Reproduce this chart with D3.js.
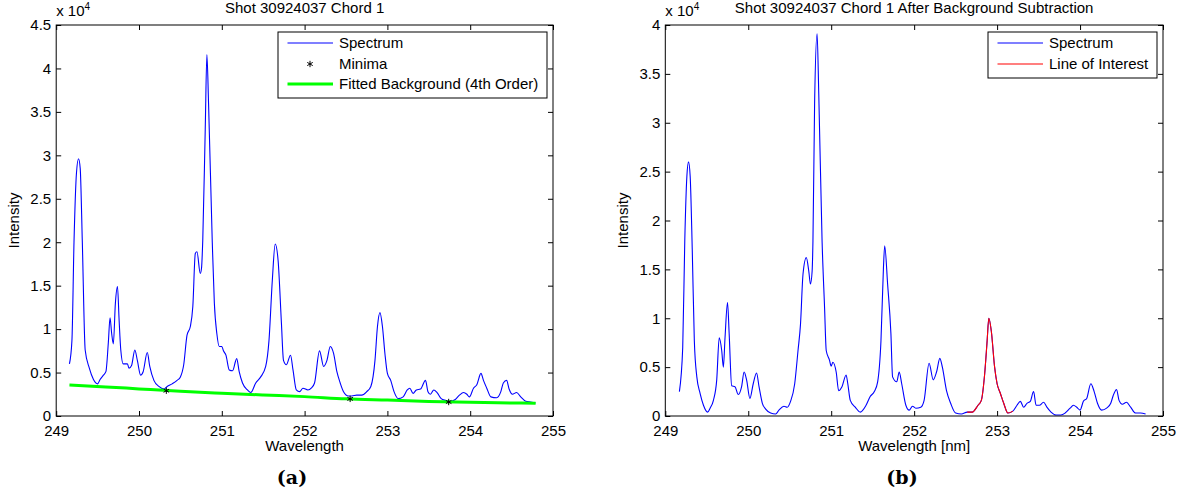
<!DOCTYPE html>
<html>
<head>
<meta charset="utf-8">
<script src="https://cdn.jsdelivr.net/npm/d3@7"></script>
<style>
  body { margin: 0; background: #fff; }
  text { font-family: "Liberation Sans", Arial, sans-serif; }
</style>
</head>
<body>
<svg id="chart" width="1185" height="496"></svg>
<script>
// ---- data (intensity in units of 10^4) ----
const xTicks = [249, 250, 251, 252, 253, 254, 255];
const yTicksA = [0, 0.5, 1, 1.5, 2, 2.5, 3, 3.5, 4, 4.5];
const yTicksB = [0, 0.5, 1, 1.5, 2, 2.5, 3, 3.5, 4];

// raw spectrum, panel (a)
const rawWl = [249.16, 249.19, 249.215, 249.245, 249.27, 249.29, 249.315, 249.35, 249.40, 249.45,
  249.50, 249.53, 249.57, 249.60, 249.63, 249.65, 249.67, 249.69, 249.715, 249.74,
  249.76, 249.78, 249.81, 249.86, 249.88, 249.91, 249.95, 249.98, 250.02, 250.05,
  250.10, 250.13, 250.18, 250.24, 250.30, 250.34, 250.40, 250.46, 250.50, 250.54,
  250.58, 250.62, 250.65, 250.68, 250.70, 250.74, 250.755, 250.77, 250.80, 250.82,
  250.84, 250.885, 250.91, 250.94, 250.97, 251.00, 251.02, 251.05, 251.09, 251.13,
  251.18, 251.21, 251.25, 251.31, 251.35, 251.41, 251.47, 251.53, 251.57, 251.61,
  251.645, 251.68, 251.72, 251.745, 251.78, 251.83, 251.86, 251.90, 251.94, 251.98,
  252.04, 252.08, 252.12, 252.18, 252.23, 252.27, 252.31, 252.35, 252.39, 252.43,
  252.47, 252.53, 252.57, 252.63, 252.69, 252.75, 252.80, 252.85, 252.88, 252.91,
  252.94, 252.97, 253.00, 253.04, 253.08, 253.13, 253.19, 253.24, 253.27, 253.31,
  253.35, 253.40, 253.46, 253.49, 253.52, 253.56, 253.60, 253.65, 253.70, 253.76,
  253.82, 253.87, 253.92, 253.96, 253.99, 254.04, 254.08, 254.13, 254.16, 254.20,
  254.25, 254.32, 254.37, 254.40, 254.44, 254.47, 254.51, 254.56, 254.61, 254.67,
  254.73, 254.79];
const rawInt = [0.60, 0.87, 2.00, 2.80, 2.96, 2.85, 2.02, 0.76, 0.55, 0.42,
  0.37, 0.42, 0.47, 0.51, 0.85, 1.13, 0.95, 0.83, 1.30, 1.49,
  1.10, 0.76, 0.60, 0.60, 0.55, 0.58, 0.76, 0.64, 0.47, 0.51,
  0.73, 0.57, 0.41, 0.34, 0.31, 0.34, 0.37, 0.41, 0.45, 0.59,
  0.93, 1.03, 1.26, 1.87, 1.89, 1.64, 1.70, 2.02, 3.30, 4.16,
  3.60, 2.00, 1.30, 0.95, 0.80, 0.80, 0.75, 0.70, 0.53, 0.52,
  0.66, 0.51, 0.38, 0.30, 0.27, 0.38, 0.45, 0.57, 0.87, 1.56,
  1.98, 1.79, 1.07, 0.64, 0.59, 0.70, 0.53, 0.30, 0.28, 0.32,
  0.30, 0.32, 0.38, 0.75, 0.57, 0.64, 0.80, 0.72, 0.51, 0.38,
  0.28, 0.23, 0.23, 0.24, 0.24, 0.28, 0.34, 0.64, 1.03, 1.19,
  1.03, 0.72, 0.49, 0.41, 0.28, 0.20, 0.22, 0.30, 0.32, 0.26,
  0.30, 0.31, 0.41, 0.28, 0.25, 0.30, 0.27, 0.20, 0.18, 0.17,
  0.19, 0.24, 0.27, 0.25, 0.22, 0.32, 0.36, 0.49, 0.41, 0.32,
  0.22, 0.21, 0.28, 0.38, 0.41, 0.31, 0.25, 0.27, 0.22, 0.17,
  0.16, 0.15];

// fitted background + minima, panel (a)
const bgWl = [249.16, 249.6, 250.0, 250.5, 251.0, 251.5, 252.0, 252.5, 253.0, 253.5, 254.0, 254.5, 254.79];
const bgInt = [0.357, 0.335, 0.312, 0.284, 0.262, 0.242, 0.223, 0.198, 0.183, 0.168, 0.157, 0.150, 0.146];
const minWl = [250.33, 252.55, 253.74];
const minInt = [0.291, 0.197, 0.161];

// background-subtracted spectrum, panel (b)
const subWl = [249.17, 249.21, 249.235, 249.26, 249.28, 249.30, 249.325, 249.35, 249.38, 249.42,
  249.46, 249.51, 249.54, 249.58, 249.62, 249.65, 249.68, 249.70, 249.72, 249.75,
  249.77, 249.80, 249.84, 249.88, 249.92, 249.95, 249.98, 250.02, 250.06, 250.10,
  250.13, 250.17, 250.21, 250.27, 250.33, 250.37, 250.43, 250.47, 250.51, 250.56,
  250.60, 250.63, 250.66, 250.70, 250.73, 250.75, 250.77, 250.78, 250.80, 250.83,
  250.85, 250.89, 250.92, 250.94, 250.98, 251.00, 251.02, 251.06, 251.09, 251.13,
  251.18, 251.20, 251.23, 251.29, 251.35, 251.42, 251.47, 251.52, 251.56, 251.60,
  251.63, 251.645, 251.68, 251.72, 251.74, 251.79, 251.82, 251.85, 251.90, 251.94,
  251.98, 252.02, 252.08, 252.12, 252.18, 252.23, 252.27, 252.31, 252.34, 252.39,
  252.44, 252.50, 252.57, 252.64, 252.70, 252.77, 252.81, 252.85, 252.88, 252.90,
  252.93, 252.97, 253.00, 253.04, 253.08, 253.13, 253.19, 253.24, 253.28, 253.32,
  253.36, 253.40, 253.44, 253.47, 253.51, 253.56, 253.60, 253.65, 253.71, 253.77,
  253.82, 253.88, 253.92, 253.96, 254.00, 254.04, 254.08, 254.13, 254.17, 254.21,
  254.26, 254.32, 254.37, 254.40, 254.44, 254.47, 254.51, 254.56, 254.61, 254.67,
  254.73, 254.79];
const subInt = [0.25, 0.70, 1.80, 2.45, 2.60, 2.45, 1.70, 0.77, 0.40, 0.23,
  0.11, 0.04, 0.08, 0.16, 0.37, 0.80, 0.67, 0.50, 0.80, 1.16,
  0.84, 0.31, 0.30, 0.22, 0.30, 0.45, 0.37, 0.18, 0.33, 0.44,
  0.30, 0.13, 0.07, 0.03, 0.02, 0.06, 0.10, 0.09, 0.15, 0.33,
  0.67, 0.94, 1.45, 1.62, 1.48, 1.35, 1.48, 1.79, 3.20, 3.91,
  3.30, 1.79, 1.11, 0.67, 0.57, 0.51, 0.55, 0.45, 0.26, 0.30,
  0.42, 0.33, 0.16, 0.09, 0.04, 0.11, 0.20, 0.25, 0.35, 0.77,
  1.52, 1.74, 1.35, 0.84, 0.40, 0.35, 0.45, 0.33, 0.11, 0.06,
  0.10, 0.08, 0.09, 0.16, 0.54, 0.37, 0.45, 0.59, 0.50, 0.26,
  0.13, 0.03, 0.02, 0.04, 0.04, 0.11, 0.16, 0.43, 0.77, 1.00,
  0.87, 0.50, 0.33, 0.23, 0.13, 0.03, 0.05, 0.11, 0.15, 0.09,
  0.13, 0.15, 0.25, 0.11, 0.11, 0.14, 0.09, 0.04, 0.01, 0.01,
  0.03, 0.08, 0.11, 0.09, 0.06, 0.15, 0.18, 0.33, 0.25, 0.13,
  0.06, 0.08, 0.13, 0.21, 0.27, 0.16, 0.12, 0.14, 0.09, 0.03,
  0.03, 0.02];
const interestRange = [252.64, 253.19];

// ---- drawing ----
const svg = d3.select("#chart");
const zip = (a, b) => a.map((v, i) => [v, b[i]]);

function drawPanel(p) {
  const x = d3.scaleLinear().domain([249, 255]).range([p.left, p.right]);
  const y = d3.scaleLinear().domain([0, p.yMax]).range([p.bottom, p.top]);
  const g = svg.append("g");

  const style = sel => sel.attr("font-size", 15)
    .attr("font-family", '"Liberation Sans", Arial, sans-serif')
    .call(s => s.select(".domain").remove())
    .call(s => s.selectAll(".tick line").attr("stroke", "#000"))
    .call(s => s.selectAll(".tick text").attr("fill", "#000"));

  g.append("g").attr("transform", `translate(0,${p.bottom})`)
    .call(d3.axisBottom(x).tickValues(xTicks).tickSize(-5).tickPadding(9).tickFormat(d3.format("d")))
    .call(style);
  g.append("g").attr("transform", `translate(0,${p.top})`)
    .call(d3.axisTop(x).tickValues(xTicks).tickSize(-5).tickFormat(""))
    .call(style);
  g.append("g").attr("transform", `translate(${p.left},0)`)
    .call(d3.axisLeft(y).tickValues(p.yTicks).tickSize(-5).tickPadding(5).tickFormat(d3.format("~g")))
    .call(style);
  g.append("g").attr("transform", `translate(${p.right},0)`)
    .call(d3.axisRight(y).tickValues(p.yTicks).tickSize(-5).tickFormat(""))
    .call(style);

  const line = d3.line().x(d => x(d[0])).y(d => y(d[1])).curve(d3.curveMonotoneX);
  p.series.forEach(s => {
    g.append("path").datum(s.data).attr("d", line)
      .attr("fill", "none").attr("stroke", s.color).attr("stroke-width", s.width);
  });
  if (p.markers) {
    g.selectAll(".minima").data(p.markers).join("path")
      .attr("transform", d => `translate(${x(d[0])},${y(d[1])})`)
      .attr("d", d3.symbol(d3.symbolAsterisk, 28))
      .attr("fill", "none").attr("stroke", "#000").attr("stroke-width", 1);
  }

  g.append("rect").attr("x", p.left).attr("y", p.top)
    .attr("width", p.right - p.left).attr("height", p.bottom - p.top)
    .attr("fill", "none").attr("stroke", "#000").attr("stroke-width", 1);

  // exponent
  const ex = g.append("text").attr("x", p.left).attr("y", 16).attr("font-size", 15);
  ex.append("tspan").text("x 10");
  ex.append("tspan").attr("font-size", 10).attr("dy", -6).text("4");

  g.append("text").attr("x", (p.left + p.right) / 2).attr("y", 13)
    .attr("text-anchor", "middle").attr("font-size", 15).text(p.title);
  g.append("text").attr("x", (p.left + p.right) / 2).attr("y", 451)
    .attr("text-anchor", "middle").attr("font-size", 15).text(p.xLabel);
  g.append("text").attr("transform", `translate(${p.left - 37},${(p.top + p.bottom) / 2}) rotate(-90)`)
    .attr("text-anchor", "middle").attr("font-size", 15).text("Intensity");
  g.append("text").attr("x", p.captionX).attr("y", 484)
    .attr("text-anchor", "middle").attr("font-size", 19).attr("font-weight", "bold")
    .style("font-family", '"DejaVu Serif", "Liberation Serif", serif').text(p.caption);

  // legend
  const lg = p.legend;
  g.append("rect").attr("x", lg.x).attr("y", lg.y).attr("width", lg.w).attr("height", lg.h)
    .attr("fill", "#fff").attr("stroke", "#000").attr("stroke-width", 1);
  lg.items.forEach((it, i) => {
    const cy = Math.round(lg.y + 11 + i * lg.step);
    if (it.type === "line") {
      g.append("line").attr("x1", lg.x + 9.5).attr("x2", lg.x + 55).attr("y1", cy).attr("y2", cy)
        .attr("stroke", it.color).attr("stroke-width", it.width);
    } else {
      g.append("path").attr("transform", `translate(${lg.x + 32},${cy})`)
        .attr("d", d3.symbol(d3.symbolAsterisk, 28))
        .attr("fill", "none").attr("stroke", "#000");
    }
    g.append("text").attr("x", lg.x + 61).attr("y", cy + 5).attr("font-size", 15).text(it.label);
  });
}

drawPanel({
  left: 56.2, right: 553, top: 25, bottom: 416, yMax: 4.5, yTicks: yTicksA,
  title: "Shot 30924037 Chord 1", xLabel: "Wavelength", caption: "(a)", captionX: 292,
  series: [
    { data: zip(rawWl, rawInt), color: "#0000ff", width: 1.1 },
    { data: zip(bgWl, bgInt), color: "#00ff00", width: 3 }
  ],
  markers: zip(minWl, minInt),
  legend: { x: 278, y: 32, w: 269, h: 66, step: 20.7, items: [
    { type: "line", color: "#0000ff", width: 1.1, label: "Spectrum" },
    { type: "mark", label: "Minima" },
    { type: "line", color: "#00ff00", width: 3, label: "Fitted Background (4th Order)" }
  ] }
});

const subData = zip(subWl, subInt);
drawPanel({
  left: 665.3, right: 1163, top: 25, bottom: 416, yMax: 4, yTicks: yTicksB,
  title: "Shot 30924037 Chord 1 After Background Subtraction", xLabel: "Wavelength [nm]",
  caption: "(b)", captionX: 902,
  series: [
    { data: subData, color: "#0000ff", width: 1.1 },
    { data: subData.filter(d => d[0] >= interestRange[0] && d[0] <= interestRange[1]), color: "#ff0000", width: 1.1 }
  ],
  legend: { x: 988, y: 32, w: 169, h: 46, step: 20.5, items: [
    { type: "line", color: "#0000ff", width: 1.1, label: "Spectrum" },
    { type: "line", color: "#ff0000", width: 1.1, label: "Line of Interest" }
  ] }
});
</script>
</body>
</html>
